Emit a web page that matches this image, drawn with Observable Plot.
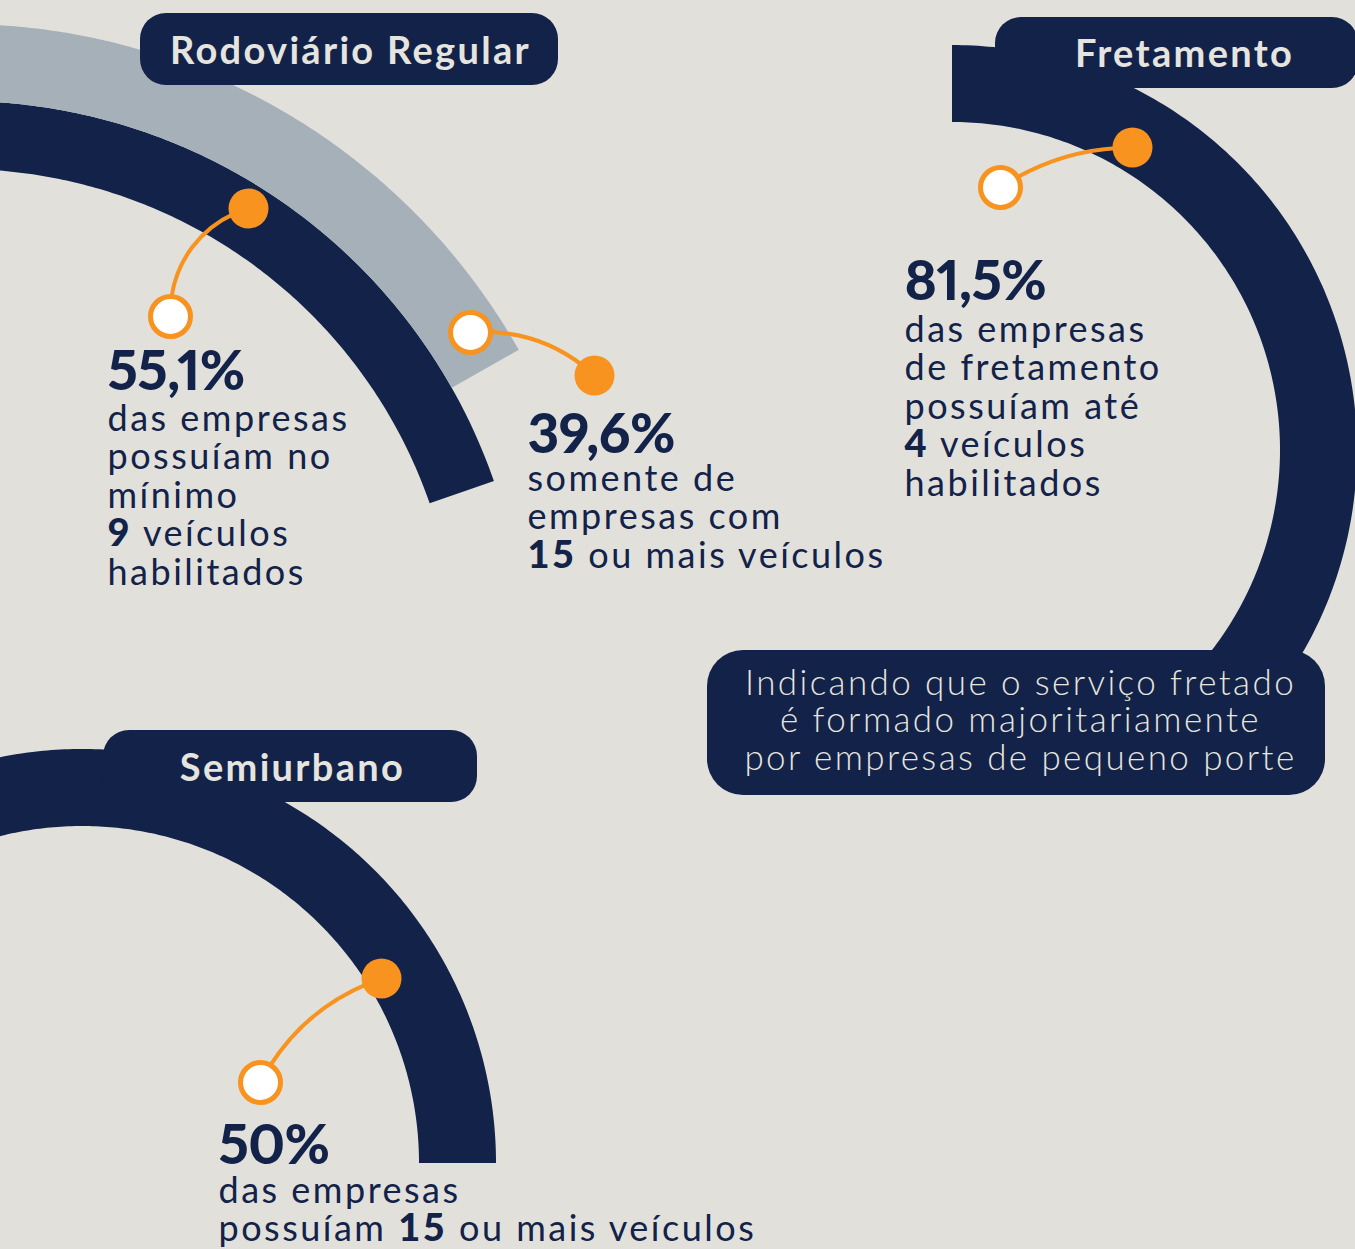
<!DOCTYPE html>
<html><head><meta charset="utf-8">
<script src="https://cdn.jsdelivr.net/npm/d3@7"></script>
<script src="https://cdn.jsdelivr.net/npm/@observablehq/plot@0.6"></script>
<style>
html,body{margin:0;padding:0;background:#e1e0db;overflow:hidden;}
#chart svg{display:block;}
#chart .body-txt text{letter-spacing:2.5px;}
#chart .title-txt text{letter-spacing:2.3px;}
#chart .note-txt text{letter-spacing:2.4px;}
#chart .num-txt text{font-variant-numeric:proportional-nums;letter-spacing:-0.5px;}
</style></head><body><div id="chart"></div>
<script>
// ---------------- data ----------------
const panelTitles = ["Rodoviário Regular", "Fretamento", "Semiurbano"];
const statPanel   = ["Rodoviário Regular", "Rodoviário Regular", "Fretamento", "Semiurbano"];
const statValues  = [55.1, 39.6, 81.5, 50];
const statLabels  = ["55,1%", "39,6%", "81,5%", "50%"];
const statTone    = ["dark", "light", "dark", "dark"];
const statTexts = [
  "das empresas\npossuíam no\nmínimo\n**9** veículos\nhabilitados",
  "somente de\nempresas com\n**15** ou mais veículos",
  "das empresas\nde fretamento\npossuíam até\n**4** veículos\nhabilitados",
  "das empresas\npossuíam **15** ou mais veículos"
];
const noteLines = ["Indicando que o serviço fretado", "é formado majoritariamente", "por empresas de pequeno porte"];

// ---------------- layout (positions / styles) ----------------
const W = 1355, H = 1249;
const C = {bg: "#e1e0db", navy: "#122249", grey: "#a5b0b8", orange: "#f7931e", light: "#e6e4de"};
const toneColor = {dark: C.navy, light: C.grey};
// each arc: centre, radii, end angle (deg) and the angle that 100% would cover
const arcGeom = [
  {cx: -40, cy: 666, r0: 497, r1: 565, end: 19.1, full: 180},
  {cx: -40, cy: 666, r0: 565, r1: 642, end: 29.5, full: 180},
  {cx: 952, cy: 450, r0: 328, r1: 405, end: -56.7, full: 180},
  {cx: 82,  cy: 1163, r0: 337, r1: 414, end: 0, full: 240}
];
const callouts = [ // white circle (near text) -> orange dot, bend
  {wx: 170, wy: 316, ox: 248, oy: 208, bend: 38},
  {wx: 470, wy: 332, ox: 594, oy: 375, bend: 24},
  {wx: 1000, wy: 187, ox: 1132, oy: 147, bend: 17},
  {wx: 260, wy: 1082, ox: 381, oy: 978, bend: 22}
];
const statPos = [ // left x, number baseline, first text baseline
  {x: 107, ny: 389, ty: 430},
  {x: 527, ny: 452, ty: 490},
  {x: 904, ny: 299, ty: 341},
  {x: 218, ny: 1163, ty: 1202}
];
const lineStep = 38.5;
const titleBoxes = [
  {x1: 140, x2: 558, y1: 13, y2: 85, tx: 350, ty: 63},
  {x1: 995, x2: 1358, y1: 17, y2: 88, tx: 1184, ty: 66},
  {x1: 103, x2: 477, y1: 730, y2: 802, tx: 292, ty: 780}
];
const noteBox = {x1: 707, x2: 1325, y1: 650, y2: 795, tx: 1020, ty: 694, step: 37.5};

const FONT = "Lato, 'Open Sans', sans-serif";
const bodySize = 36, boldSize = 38, bodyLS = 2.5, numSize = 55, titleSize = 38, noteSize = 35;

// ---------------- derived tables ----------------
const arcRows = [];
statValues.forEach((v, i) => {
  const g = arcGeom[i], span = v / 100 * g.full, start = g.end + span, n = 200;
  for (let k = 0; k <= n; k++) {
    const a = (start - span * k / n) * Math.PI / 180;
    arcRows.push({id: i, tone: statTone[i],
      x1: g.cx + g.r0 * Math.cos(a), y1: g.cy - g.r0 * Math.sin(a),
      x2: g.cx + g.r1 * Math.cos(a), y2: g.cy - g.r1 * Math.sin(a)});
  }
});

const ctx = document.createElement("canvas").getContext("2d");
function measure(t, weight, size) {
  ctx.font = `${weight} ${size}px ${FONT}`;
  return ctx.measureText(t).width + [...t].length * bodyLS;
}

const segRows = [];
statTexts.forEach((txt, i) => {
  txt.split("\n").forEach((line, j) => {
    const parts = line.split("**");
    let x = statPos[i].x;
    parts.forEach((p, k) => {
      if (!p) return;
      const bold = k % 2 === 1;
      segRows.push({text: p, bold, x, y: statPos[i].ty + j * lineStep});
      x += measure(p, bold ? 900 : 400, bold ? boldSize : bodySize);
    });
  });
});

const numRows = statLabels.map((t, i) => ({text: t, x: statPos[i].x, y: statPos[i].ny}));
const titleRows = panelTitles.map((t, i) => ({text: t, ...titleBoxes[i]}));
const noteRows = noteLines.map((t, i) => ({text: t, x: noteBox.tx, y: noteBox.ty + i * noteBox.step}));
const calloutRows = callouts.map((c, i) => ({...c, value: statValues[i]}));

const plot = Plot.plot({
  width: W, height: H, margin: 0,
  x: {domain: [0, W], range: [0, W], axis: null},
  y: {domain: [0, H], range: [0, H], axis: null},
  style: {background: C.bg, fontFamily: FONT},
  marks: [
    Plot.area(arcRows, {x1: "x1", y1: "y1", x2: "x2", y2: "y2", z: "id", fill: d => toneColor[d.tone]}),
    Plot.rect(titleRows, {x1: "x1", x2: "x2", y1: "y1", y2: "y2", fill: C.navy, rx: 26}),
    Plot.rect([noteBox], {x1: "x1", x2: "x2", y1: "y1", y2: "y2", fill: C.navy, rx: 36}),
    Plot.text(titleRows, {x: "tx", y: "ty", text: "text", fill: C.light, fontSize: titleSize, fontWeight: 700, lineAnchor: "bottom", textAnchor: "middle", className: "title-txt"}),
    Plot.text(noteRows, {x: "x", y: "y", text: "text", fill: C.light, fontSize: noteSize, fontWeight: 300, lineAnchor: "bottom", textAnchor: "middle", className: "note-txt"}),
    ...calloutRows.map(c => Plot.arrow([c], {x1: "wx", y1: "wy", x2: "ox", y2: "oy", bend: c.bend, stroke: C.orange, strokeWidth: 4, headLength: 0, insetStart: 20, insetEnd: 15})),
    Plot.dot(calloutRows, {x: "ox", y: "oy", r: 20, fill: C.orange}),
    Plot.dot(calloutRows, {x: "wx", y: "wy", r: 20, fill: "white", stroke: C.orange, strokeWidth: 5}),
    Plot.text(numRows, {x: "x", y: "y", text: "text", fill: C.navy, fontSize: numSize, fontWeight: 900, lineAnchor: "bottom", textAnchor: "start", className: "num-txt"}),
    Plot.text(segRows.filter(d => !d.bold), {x: "x", y: "y", text: "text", fill: C.navy, fontSize: bodySize, fontWeight: 400, lineAnchor: "bottom", textAnchor: "start", className: "body-txt"}),
    Plot.text(segRows.filter(d => d.bold), {x: "x", y: "y", text: "text", fill: C.navy, fontSize: boldSize, fontWeight: 900, lineAnchor: "bottom", textAnchor: "start", className: "body-txt"})
  ]
});
document.getElementById("chart").appendChild(plot);
</script></body></html>
